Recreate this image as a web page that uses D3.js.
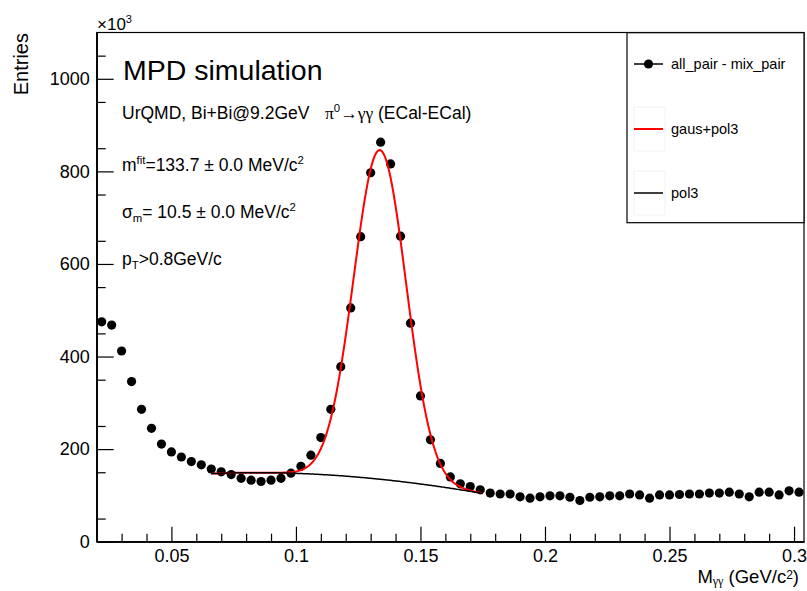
<!DOCTYPE html>
<html>
<head>
<meta charset="utf-8">
<script src="https://cdn.jsdelivr.net/npm/d3@7"></script>
<style>
  body { margin: 0; background: #fff; }
  svg { display: block; font-family: "Liberation Sans", Arial, Helvetica, sans-serif; }
</style>
</head>
<body>
<div id="chart"></div>
<script>
// histogram bin centres (GeV/c^2) and entries (x10^3)
var binCenters = [
  0.022, 0.026, 0.030, 0.034, 0.038, 0.042, 0.046, 0.050, 0.054, 0.058,
  0.062, 0.066, 0.070, 0.074, 0.078, 0.082, 0.086, 0.090, 0.094, 0.098,
  0.102, 0.106, 0.110, 0.114, 0.118, 0.122, 0.126, 0.130, 0.134, 0.138,
  0.142, 0.146, 0.150, 0.154, 0.158, 0.162, 0.166, 0.170, 0.174, 0.178,
  0.182, 0.186, 0.190, 0.194, 0.198, 0.202, 0.206, 0.210, 0.214, 0.218,
  0.222, 0.226, 0.230, 0.234, 0.238, 0.242, 0.246, 0.250, 0.254, 0.258,
  0.262, 0.266, 0.270, 0.274, 0.278, 0.282, 0.286, 0.290, 0.294, 0.298,
  0.302
];
var entries = [
  475, 468, 412, 346, 286, 245, 211, 194, 183, 173,
  166, 157, 151, 145, 137, 133, 130, 133, 137, 148,
  163, 187, 225, 286, 378, 505, 659, 797, 863, 816,
  660, 472, 315, 220, 169, 140, 125, 119, 112, 105,
  103, 103, 97, 94, 97, 99, 99, 96, 89, 96,
  97, 99, 99, 103, 101, 94, 101, 101, 102, 103,
  103, 105, 105, 107, 103, 97, 107, 107, 101, 110,
  107
];

// fit parameters: gaus = [amplitude, mean, sigma], pol3 around pol3Center
var gausParams = [711, 0.1337, 0.0105];
var pol3Params = [141.6, -413.3, -5320, 8770];
var pol3Center = 0.12;
var fitRange = [0.066, 0.175];

var xMajorTicks = [0.05, 0.1, 0.15, 0.2, 0.25, 0.3];
var xTickLabels = ['0.05', '0.1', '0.15', '0.2', '0.25', '0.3'];
var yMajorTicks = [0, 200, 400, 600, 800, 1000];
var yTickLabels = ['0', '200', '400', '600', '800', '1000'];
var legendLabels = ['all_pair - mix_pair', 'gaus+pol3', 'pol3'];

var WIDTH = 807, HEIGHT = 591;
var FONT = '"Liberation Sans", Arial, Helvetica, sans-serif';
var SERIF = '"Liberation Serif", "Times New Roman", serif';

var svg = d3.select('#chart').append('svg')
    .attr('width', WIDTH)
    .attr('height', HEIGHT);

svg.append('rect')
    .attr('width', WIDTH)
    .attr('height', HEIGHT)
    .attr('fill', '#fff');

var x = d3.scaleLinear().domain([0.02, 0.304]).range([96.7, 804]);
var y = d3.scaleLinear().domain([0, 1100]).range([541.7, 32.5]);

function pol3(v) {
  var u = v - pol3Center;
  return pol3Params[0] + pol3Params[1] * u + pol3Params[2] * u * u + pol3Params[3] * u * u * u;
}

function gausPol3(v) {
  var d = (v - gausParams[1]) / gausParams[2];
  return gausParams[0] * Math.exp(-0.5 * d * d) + pol3(v);
}

// frame
svg.append('rect')
    .attr('x', x.range()[0])
    .attr('y', y.range()[1])
    .attr('width', x.range()[1] - x.range()[0])
    .attr('height', y.range()[0] - y.range()[1])
    .attr('fill', 'none')
    .attr('stroke', '#000')
    .attr('stroke-width', 1.2);

// axes: major + minor ticks pointing inwards
function styleAxis(g, size) {
  g.attr('font-family', FONT).attr('font-size', size);
  g.selectAll('path.domain').attr('stroke', '#000').attr('stroke-width', 1.2);
  g.selectAll('.tick line').attr('stroke', '#000').attr('stroke-width', 1.2);
  g.selectAll('.tick text').attr('fill', '#000');
}

var xMinor = d3.range(3, 31).map(function (k) { return k / 100; })
    .filter(function (v) { return Math.round(v * 100) % 5 !== 0; });
var yMinor = d3.range(50, 1100, 100);

svg.append('g')
    .attr('transform', 'translate(0,' + y(0) + ')')
    .call(d3.axisBottom(x).tickValues(xMinor).tickFormat('').tickSize(-8).tickSizeOuter(0))
    .call(styleAxis, 18);

svg.append('g')
    .attr('transform', 'translate(0,' + y(0) + ')')
    .call(d3.axisBottom(x)
      .tickValues(xMajorTicks)
      .tickFormat(function (d, i) { return xTickLabels[i]; })
      .tickSize(-15)
      .tickSizeOuter(0)
      .tickPadding(8))
    .call(styleAxis, 18);

svg.append('g')
    .attr('transform', 'translate(' + x.range()[0] + ',0)')
    .call(d3.axisLeft(y).tickValues(yMinor).tickFormat('').tickSize(-9).tickSizeOuter(0))
    .call(styleAxis, 18);

svg.append('g')
    .attr('transform', 'translate(' + x.range()[0] + ',0)')
    .call(d3.axisLeft(y)
      .tickValues(yMajorTicks)
      .tickFormat(function (d, i) { return yTickLabels[i]; })
      .tickSize(-17)
      .tickSizeOuter(0)
      .tickPadding(7))
    .call(styleAxis, 18);

// data points
svg.append('g')
    .selectAll('circle')
    .data(binCenters)
    .enter().append('circle')
    .attr('cx', function (d) { return x(d); })
    .attr('cy', function (d, i) { return y(entries[i]); })
    .attr('r', 4.6)
    .attr('fill', '#000');

// fit curves
var samples = d3.range(fitRange[0], fitRange[1] + 1e-9, 0.0005);
var line = d3.line()
    .x(function (d) { return x(d[0]); })
    .y(function (d) { return y(d[1]); });

svg.append('path')
    .attr('d', line(samples.map(function (v) { return [v, gausPol3(v)]; })))
    .attr('fill', 'none')
    .attr('stroke', '#f00')
    .attr('stroke-width', 2);

svg.append('path')
    .attr('d', line(samples.map(function (v) { return [v, pol3(v)]; })))
    .attr('fill', 'none')
    .attr('stroke', '#000')
    .attr('stroke-width', 1.5);

// text with sub/superscripts: parts = [[text, 'sup'|'sub'|null, font]]
function richText(tx, ty, size, parts, opts) {
  opts = opts || {};
  var supRaise = opts.supRaise || 0.42;
  var subDrop = opts.subDrop || 0.25;
  var t = svg.append('text')
      .attr('x', tx)
      .attr('y', ty)
      .attr('font-size', size)
      .attr('font-family', FONT)
      .attr('fill', '#000')
      .attr('text-anchor', opts.anchor || 'start');
  var shift = 0;
  parts.forEach(function (p) {
    var target = 0, fs = size;
    if (p[1] === 'sup') { target = -supRaise * size; fs = 0.65 * size; }
    if (p[1] === 'sub') { target = subDrop * size; fs = 0.65 * size; }
    t.append('tspan')
        .attr('dy', target - shift)
        .attr('font-size', fs)
        .attr('font-family', p[2] || FONT)
        .text(p[0]);
    shift = target;
  });
  return t;
}

richText(97, 30, 17, [['\u00d710'], ['3', 'sup']]);

svg.append('text')
    .attr('x', 123)
    .attr('y', 80)
    .attr('font-size', 28.5)
    .attr('font-family', FONT)
    .text('MPD simulation');

richText(122, 119, 17.5, [['UrQMD, Bi+Bi@9.2GeV']]);
richText(325, 119, 17.5, [
  ['\u03c0', null, SERIF], ['0', 'sup'], ['\u2192', null, SERIF],
  ['\u03b3\u03b3', null, SERIF], [' (ECal-ECal)']
]);
richText(122, 171, 17.5, [['m'], ['fit', 'sup'], ['=133.7 \u00b1 0.0 MeV/c'], ['2', 'sup']]);
richText(122, 218, 17.5, [['\u03c3'], ['m', 'sub'], ['= 10.5 \u00b1 0.0 MeV/c'], ['2', 'sup']]);
richText(122, 265, 17.5, [['p'], ['T', 'sub'], ['>0.8GeV/c']]);

// axis titles
svg.append('text')
    .attr('transform', 'translate(28,33) rotate(-90)')
    .attr('text-anchor', 'end')
    .attr('font-size', 20)
    .attr('font-family', FONT)
    .text('Entries');

richText(799, 583, 18.5, [
  ['M'], ['\u03b3\u03b3', 'sub', SERIF], [' (GeV/c', null], ['2', 'sup'], [')']
], { anchor: 'end', supRaise: 0.22, subDrop: 0.13 });

// legend
var legend = svg.append('g');
legend.append('rect')
    .attr('x', 627)
    .attr('y', 32.7)
    .attr('width', 177)
    .attr('height', 190)
    .attr('fill', '#fff')
    .attr('stroke', '#000')
    .attr('stroke-width', 1.2);

var legendRows = [64, 129, 193];
var legendColors = ['#000', '#f00', '#000'];

legendLabels.forEach(function (label, i) {
  var ly = legendRows[i];
  if (i > 0) {
    legend.append('rect')
        .attr('x', 634)
        .attr('y', ly - 22)
        .attr('width', 31)
        .attr('height', 44)
        .attr('fill', 'none')
        .attr('stroke', '#f2f2f2');
  }
  legend.append('line')
      .attr('x1', 634)
      .attr('x2', 663)
      .attr('y1', ly)
      .attr('y2', ly)
      .attr('stroke', legendColors[i])
      .attr('stroke-width', i === 1 ? 2 : 1.5);
  if (i === 0) {
    legend.append('circle')
        .attr('cx', 648.5)
        .attr('cy', ly)
        .attr('r', 4.6)
        .attr('fill', '#000');
  }
  legend.append('text')
      .attr('x', 671)
      .attr('y', ly)
      .attr('dy', '0.35em')
      .attr('font-size', 14.5)
      .attr('font-family', FONT)
      .text(label);
});
</script>
</body>
</html>
